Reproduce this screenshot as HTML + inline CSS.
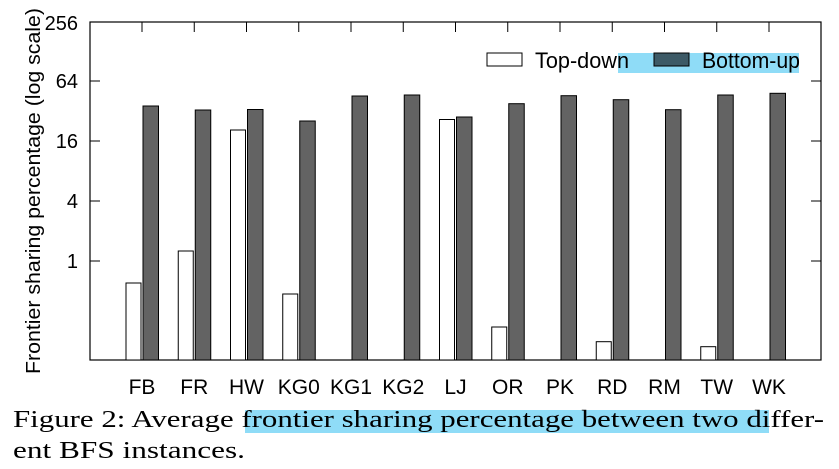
<!DOCTYPE html>
<html><head><meta charset="utf-8"><style>
body{margin:0;background:#fff;width:839px;height:469px;overflow:hidden}
svg{display:block}
</style></head><body>
<svg width="839" height="469" xmlns="http://www.w3.org/2000/svg" font-family="Liberation Sans, sans-serif">
<rect x="618" y="53" width="181" height="20" fill="#8fdcf7"/>
<rect x="90" y="22" width="731" height="338" fill="none" stroke="#000" stroke-width="1.2"/>
<g stroke="#000" stroke-width="1">
<line x1="90" y1="81" x2="100" y2="81"/><line x1="90" y1="141" x2="100" y2="141"/><line x1="90" y1="201" x2="100" y2="201"/><line x1="90" y1="261" x2="100" y2="261"/>
<line x1="821" y1="81" x2="811" y2="81"/><line x1="821" y1="141" x2="811" y2="141"/><line x1="821" y1="201" x2="811" y2="201"/><line x1="821" y1="261" x2="811" y2="261"/>
<line x1="142" y1="22" x2="142" y2="32"/><line x1="194.25" y1="22" x2="194.25" y2="32"/><line x1="246.5" y1="22" x2="246.5" y2="32"/><line x1="298.75" y1="22" x2="298.75" y2="32"/><line x1="351" y1="22" x2="351" y2="32"/><line x1="403.25" y1="22" x2="403.25" y2="32"/><line x1="455.5" y1="22" x2="455.5" y2="32"/><line x1="507.75" y1="22" x2="507.75" y2="32"/><line x1="560" y1="22" x2="560" y2="32"/><line x1="612.25" y1="22" x2="612.25" y2="32"/><line x1="664.5" y1="22" x2="664.5" y2="32"/><line x1="716.75" y1="22" x2="716.75" y2="32"/><line x1="769" y1="22" x2="769" y2="32"/>
</g>
<g font-size="20" text-anchor="end">
<text x="78" y="30">256</text><text x="78" y="88">64</text><text x="78" y="148">16</text><text x="78" y="208">4</text><text x="78" y="268">1</text>
</g>
<text transform="translate(40,191) rotate(-90)" font-size="20" text-anchor="middle" textLength="366" lengthAdjust="spacingAndGlyphs">Frontier sharing percentage (log scale)</text>
<g stroke="#000" stroke-width="1">
<rect x="126" y="283" width="15" height="77" fill="#fff"/>
<rect x="178.25" y="251" width="15" height="109" fill="#fff"/>
<rect x="230.5" y="130" width="15" height="230" fill="#fff"/>
<rect x="282.75" y="294" width="15" height="66" fill="#fff"/>
<rect x="439.5" y="119.5" width="15" height="240.5" fill="#fff"/>
<rect x="491.75" y="327" width="15" height="33" fill="#fff"/>
<rect x="596.25" y="341.7" width="15" height="18.3" fill="#fff"/>
<rect x="700.75" y="346.7" width="15" height="13.3" fill="#fff"/>
<g fill="#636363">
<rect x="143" y="106" width="15.5" height="254"/>
<rect x="195.25" y="110" width="15.5" height="250"/>
<rect x="247.5" y="109.5" width="15.5" height="250.5"/>
<rect x="299.75" y="121" width="15.5" height="239"/>
<rect x="352" y="96" width="15.5" height="264"/>
<rect x="404.25" y="95" width="15.5" height="265"/>
<rect x="456.5" y="117" width="15.5" height="243"/>
<rect x="508.75" y="103.7" width="15.5" height="256.3"/>
<rect x="561" y="95.7" width="15.5" height="264.3"/>
<rect x="613.25" y="99.7" width="15.5" height="260.3"/>
<rect x="665.5" y="109.7" width="15.5" height="250.3"/>
<rect x="717.75" y="95" width="15.5" height="265"/>
<rect x="770" y="93.3" width="15.5" height="266.7"/>
</g>
</g>
<g font-size="21" text-anchor="middle">
<text x="142" y="394">FB</text><text x="194.25" y="394">FR</text><text x="246.5" y="394">HW</text><text x="298.75" y="394">KG0</text><text x="351" y="394">KG1</text><text x="403.25" y="394">KG2</text><text x="455.5" y="394">LJ</text><text x="507.75" y="394">OR</text><text x="560" y="394">PK</text><text x="612.25" y="394">RD</text><text x="664.5" y="394">RM</text><text x="716.75" y="394">TW</text><text x="769" y="394">WK</text>
</g>
<rect x="487" y="53" width="35" height="13" fill="#fff" stroke="#000"/>
<text x="535" y="68" font-size="22" textLength="94" lengthAdjust="spacingAndGlyphs">Top-down</text>
<rect x="654" y="53" width="35" height="13" fill="#3d5a66" stroke="#000"/>
<text x="702" y="68" font-size="22" textLength="98" lengthAdjust="spacingAndGlyphs">Bottom-up</text>
<rect x="245" y="410" width="524" height="23" fill="#8fdcf7"/>
<g font-family="Liberation Serif, serif" font-size="24">
<text x="13" y="427" textLength="811" lengthAdjust="spacingAndGlyphs">Figure 2: Average frontier sharing percentage between two differ-</text>
<text x="13" y="458" textLength="232" lengthAdjust="spacingAndGlyphs">ent BFS instances.</text>
</g>
</svg>
</body></html>
